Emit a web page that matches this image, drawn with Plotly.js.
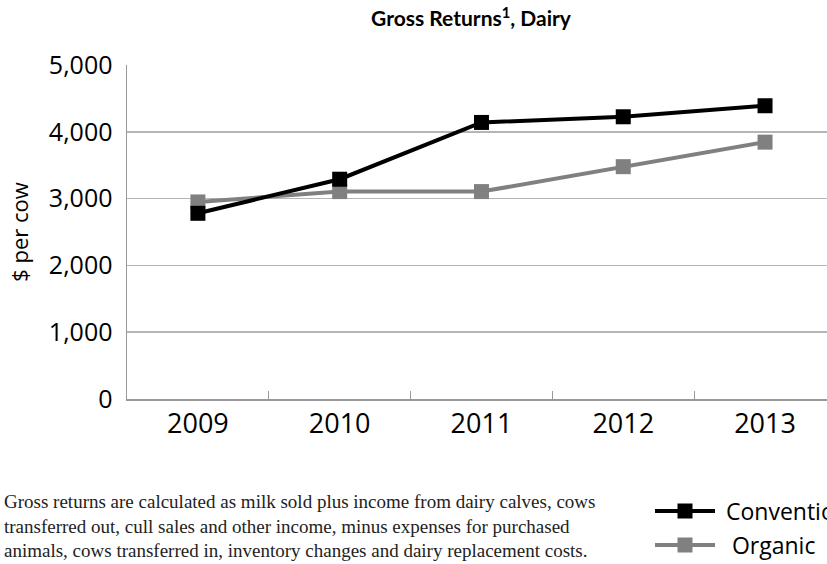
<!DOCTYPE html>
<html>
<head>
<meta charset="utf-8">
<script src="https://cdn.plot.ly/plotly-3.0.1.min.js"></script>
<style>
  html, body { margin: 0; padding: 0; background: #fff; overflow: hidden; }
  #chart { width: 827px; height: 564px; }
</style>
</head>
<body>
<div id="chart"></div>
<script>
const years = ['2009', '2010', '2011', '2012', '2013'];
const conventional = [2780, 3290, 4140, 4225, 4390];
const organic = [2950, 3105, 3105, 3478, 3845];
const yTicks = [0, 1000, 2000, 3000, 4000, 5000];
const yTickLabels = ['0', '1,000', '2,000', '3,000', '4,000', '5,000'];
const seriesNames = ['Conventional', 'Organic'];
const titleText = 'Gross Returns<sup>1</sup>, Dairy';
const yTitle = '$ per cow';
const footnote = 'Gross returns are calculated as milk sold plus income from dairy calves, cows<br>' +
  'transferred out, cull sales and other income, minus expenses for purchased<br>' +
  'animals, cows transferred in, inventory changes and dairy replacement costs.';

const sansFont = '"Open Sans", "Noto Sans", sans-serif';

const traces = [
  {
    x: years, y: organic, name: '\u00a0\u00a0' + seriesNames[1], type: 'scatter', mode: 'lines+markers',
    line: { color: '#808080', width: 4 },
    marker: { symbol: 'square', size: 15, color: '#808080' },
    legend: 'legend2'
  },
  {
    x: years, y: conventional, name: '\u00a0' + seriesNames[0], type: 'scatter', mode: 'lines+markers',
    line: { color: '#000000', width: 4 },
    marker: { symbol: 'square', size: 15, color: '#000000' },
    legend: 'legend'
  }
];

const legendCommon = {
  xref: 'paper', yref: 'paper', xanchor: 'left', yanchor: 'middle',
  bgcolor: 'rgba(0,0,0,0)', borderwidth: 0,
  font: { family: sansFont, size: 23, color: '#000' },
  itemwidth: 60
};

const layout = {
  width: 827, height: 564,
  margin: { l: 127, r: 0, t: 65, b: 165, pad: 0, autoexpand: false },
  paper_bgcolor: '#ffffff', plot_bgcolor: '#ffffff',
  font: { family: sansFont, color: '#000000' },
  title: {
    text: titleText,
    font: { family: 'Lato, "Open Sans", sans-serif', size: 21, weight: 'bold', color: '#000' },
    xref: 'container', x: 471 / 827, xanchor: 'center',
    yref: 'container', y: 1 - 19 / 564, yanchor: 'middle'
  },
  xaxis: {
    type: 'category', categoryorder: 'array', categoryarray: years,
    range: [-0.5, 4.437],
    tickson: 'boundaries', ticks: 'inside', ticklen: 8, tickwidth: 1.2, tickcolor: '#999999',
    showline: true, linecolor: '#999999', linewidth: 1.5,
    showgrid: false, zeroline: false,
    tickfont: { family: sansFont, size: 27, color: '#000' }
  },
  yaxis: {
    range: [0, 5000], tickmode: 'array', tickvals: yTicks, ticktext: yTickLabels,
    showgrid: true, gridcolor: '#b5b5b5', gridwidth: 1.5,
    showline: true, linecolor: '#999999', linewidth: 1.5,
    zeroline: false, ticks: '',
    ticklabelstandoff: 8,
    tickfont: { family: sansFont, size: 25, color: '#000' },
    title: { text: yTitle, font: { family: sansFont, size: 22, color: '#000' }, standoff: 14 }
  },
  showlegend: true,
  legend: Object.assign({}, legendCommon, { x: (650 - 127) / 700, y: (399 - 511) / 334 }),
  legend2: Object.assign({}, legendCommon, { x: (650 - 127) / 700, y: (399 - 545) / 334 }),
  annotations: [
    {
      text: footnote, showarrow: false, align: 'left',
      xref: 'paper', x: (2 - 127) / 700, xanchor: 'left',
      yref: 'paper', y: (399 - 526) / 334, yanchor: 'middle',
      font: { family: '"Liberation Serif", "DejaVu Serif", serif', size: 19, color: '#222' }
    }
  ]
};

Plotly.newPlot('chart', traces, layout, { displayModeBar: false, staticPlot: true });
</script>
</body>
</html>
